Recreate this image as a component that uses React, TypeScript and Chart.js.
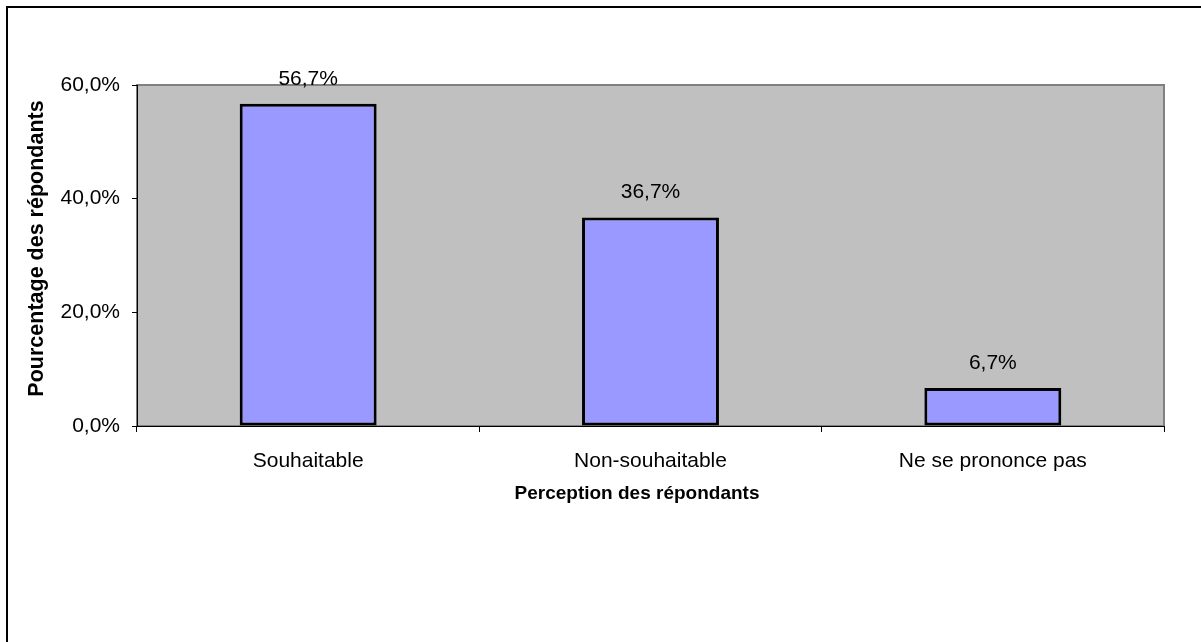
import React, { useEffect, useRef } from 'react';
import { Chart, registerables } from 'chart.js';

Chart.register(...registerables);

const categories = ['Souhaitable', 'Non-souhaitable', 'Ne se prononce pas'];
const values = [56.7, 36.7, 6.7];
const yTicks = [0, 20, 40, 60];
const yTitle = 'Pourcentage des répondants';
const xTitle = 'Perception des répondants';

const FAMILY = '"Liberation Sans", Arial, Helvetica, sans-serif';
const fmt = (v: number) => v.toFixed(1).replace('.', ',') + '%';

const framePlugin = {
  id: 'frame',
  beforeDraw(chart: any) {
    const { ctx, chartArea } = chart;
    const { left, top, right, bottom } = chartArea;
    ctx.save();
    ctx.fillStyle = '#C0C0C0';
    ctx.fillRect(left, top, right - left, bottom - top);
    ctx.strokeStyle = '#808080';
    ctx.lineWidth = 2;
    ctx.strokeRect(left, top, right - left, bottom - top);
    ctx.restore();
  },
  afterDraw(chart: any) {
    const { ctx, width, height, chartArea } = chart;
    ctx.save();
    // outer frame (top and left edges only visible)
    ctx.strokeStyle = '#000';
    ctx.lineWidth = 2;
    ctx.beginPath();
    ctx.moveTo(width + 2, 7);
    ctx.lineTo(7, 7);
    ctx.lineTo(7, height + 2);
    ctx.stroke();
    // axis titles
    ctx.fillStyle = '#000';
    ctx.textAlign = 'center';
    ctx.textBaseline = 'middle';
    ctx.font = `bold 19px ${FAMILY}`;
    ctx.fillText(xTitle, 637, 494);
    ctx.translate(37, 248.5);
    ctx.rotate(-Math.PI / 2);
    ctx.font = `bold 21.5px ${FAMILY}`;
    ctx.fillText(yTitle, 0, 0);
    ctx.restore();
  },
};

const valueLabelPlugin = {
  id: 'valueLabels',
  afterDatasetsDraw(chart: any) {
    const { ctx } = chart;
    const meta = chart.getDatasetMeta(0);
    ctx.save();
    ctx.font = `21px ${FAMILY}`;
    ctx.fillStyle = '#000';
    ctx.textAlign = 'center';
    ctx.textBaseline = 'alphabetic';
    meta.data.forEach((bar: any, i: number) => {
      ctx.fillText(fmt(values[i]), bar.x, bar.y - 19);
    });
    ctx.restore();
  },
};

export default function App() {
  const ref = useRef<HTMLCanvasElement | null>(null);

  useEffect(() => {
    if (!ref.current) return;
    const chart = new Chart(ref.current, {
      type: 'bar',
      data: {
        labels: categories,
        datasets: [
          {
            data: values,
            backgroundColor: '#9999FF',
            borderColor: '#000000',
            borderWidth: 3,
            borderSkipped: false,
            categoryPercentage: 1,
            barPercentage: 0.4,
          },
        ],
      },
      options: {
        responsive: false,
        animation: false,
        devicePixelRatio: 1,
        layout: { padding: { left: 0, top: 85, right: 37, bottom: 0 } },
        plugins: {
          legend: { display: false },
          tooltip: { enabled: false },
        },
        scales: {
          x: {
            grid: {
              display: true,
              drawOnChartArea: false,
              drawTicks: true,
              tickLength: 6,
              color: '#000',
              offset: true,
            },
            border: { display: true, color: '#000', width: 1 },
            ticks: {
              font: { family: FAMILY, size: 21 },
              color: '#000',
              padding: 17,
              maxRotation: 0,
              autoSkip: false,
            },
            title: { display: false, text: xTitle },
            afterFit: (s: any) => {
              s.height = 216;
            },
          },
          y: {
            min: 0,
            max: 60,
            afterBuildTicks: (s: any) => {
              s.ticks = yTicks.map((v) => ({ value: v }));
            },
            ticks: {
              callback: (v: any) => fmt(Number(v)),
              font: { family: FAMILY, size: 21 },
              color: '#000',
              padding: 12,
            },
            grid: {
              display: true,
              drawOnChartArea: false,
              drawTicks: true,
              tickLength: 5,
              color: '#000',
            },
            border: { display: true, color: '#000', width: 1 },
            title: { display: false, text: yTitle },
            afterFit: (s: any) => {
              s.width = 137;
            },
          },
        },
      },
      plugins: [framePlugin, valueLabelPlugin],
    } as any);
    return () => chart.destroy();
  }, []);

  return (
    <div style={{ position: 'fixed', left: 0, top: 0, width: 1201, height: 642, background: '#fff' }}>
      <canvas ref={ref} width={1201} height={642} style={{ display: 'block', width: 1201, height: 642 }} />
    </div>
  );
}
